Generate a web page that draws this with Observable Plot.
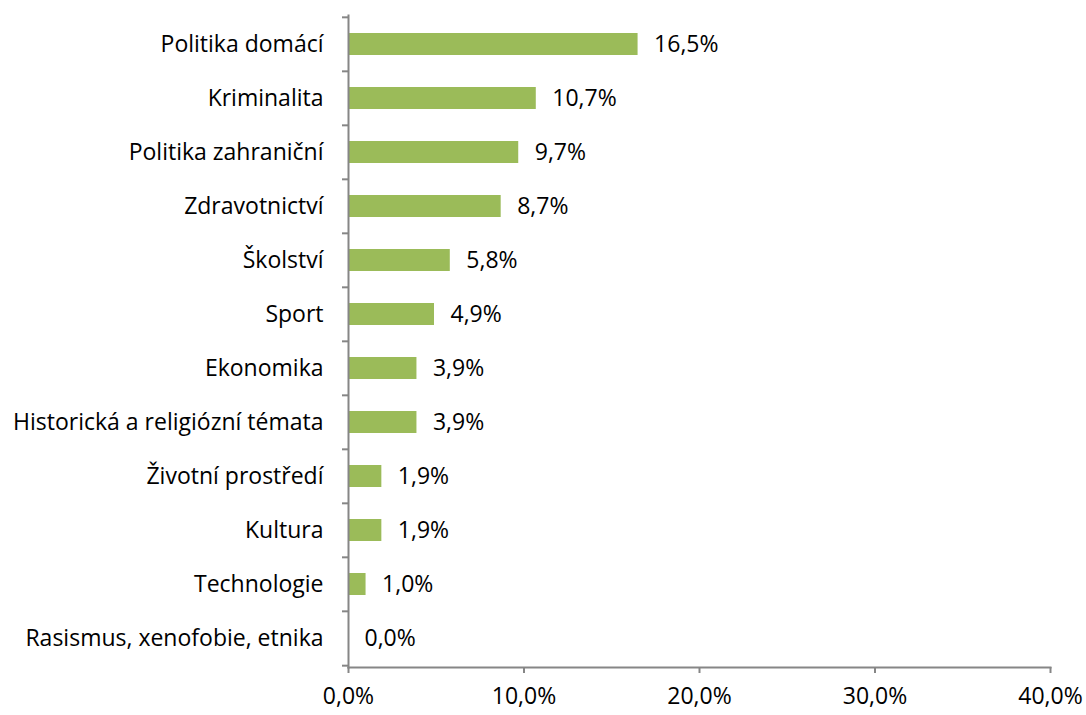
<!DOCTYPE html>
<html>
<head>
<meta charset="utf-8">
<script src="https://cdn.jsdelivr.net/npm/d3@7"></script>
<script src="https://cdn.jsdelivr.net/npm/@observablehq/plot@0.6"></script>
<style>
  html, body { margin: 0; padding: 0; background: #fff; }
</style>
</head>
<body>
<div id="chart"></div>
<script>
const categories = [
  "Politika domácí",
  "Kriminalita",
  "Politika zahraniční",
  "Zdravotnictví",
  "Školství",
  "Sport",
  "Ekonomika",
  "Historická a religiózní témata",
  "Životní prostředí",
  "Kultura",
  "Technologie",
  "Rasismus, xenofobie, etnika"
];
const values = [16.5, 10.7, 9.7, 8.7, 5.8, 4.9, 3.9, 3.9, 1.9, 1.9, 1.0, 0.0];
const xTicks = [0, 10, 20, 30, 40];

const data = categories.map((c, i) => ({category: c, value: values[i]}));
const fmt = v => d3.format(".1f")(v).replace(".", ",") + "%";

const W = 1086, H = 715;
const mTop = 15, mBottom = 48, mLeft = 348, mRight = 36;
const step = (H - mTop - mBottom) / categories.length;
const axisColor = "#868686";
const FS = 23;

const chart = Plot.plot({
  width: W,
  height: H,
  marginTop: mTop,
  marginBottom: mBottom,
  marginLeft: mLeft,
  marginRight: mRight,
  style: {fontFamily: "'Open Sans', sans-serif", fontSize: FS + "px", color: "#000", background: "#fff"},
  x: {domain: [0, 40], ticks: xTicks},
  y: {domain: categories, paddingInner: 0.6, paddingOuter: 0.3},
  marks: [
    Plot.barX(data, {y: "category", x: "value", fill: "#9BBB59"}),
    Plot.text(data, {y: "category", x: "value", text: d => fmt(d.value), textAnchor: "start", dx: 16, fontSize: FS, fill: "#000"}),
    Plot.frame({anchor: "left", stroke: axisColor, strokeWidth: 2, strokeOpacity: 1}),
    Plot.frame({anchor: "bottom", stroke: axisColor, strokeWidth: 2, strokeOpacity: 1}),
    Plot.axisY({tickSize: 0, tickPadding: 25, fontSize: FS, label: null, fill: "#000"}),
    Plot.axisY({tickSize: 6, text: null, dy: -step / 2, stroke: axisColor, strokeWidth: 2, strokeOpacity: 1, label: null}),
    Plot.axisY({ticks: [categories[categories.length - 1]], tickSize: 6, text: null, dy: step / 2, stroke: axisColor, strokeWidth: 2, strokeOpacity: 1, label: null}),
    Plot.axisX({ticks: xTicks, tickSize: 6, tickPadding: 14, tickFormat: fmt, stroke: axisColor, strokeWidth: 2, strokeOpacity: 1, fill: "#000", fontSize: FS, label: null})
  ]
});
document.getElementById("chart").appendChild(chart);
</script>
</body>
</html>
